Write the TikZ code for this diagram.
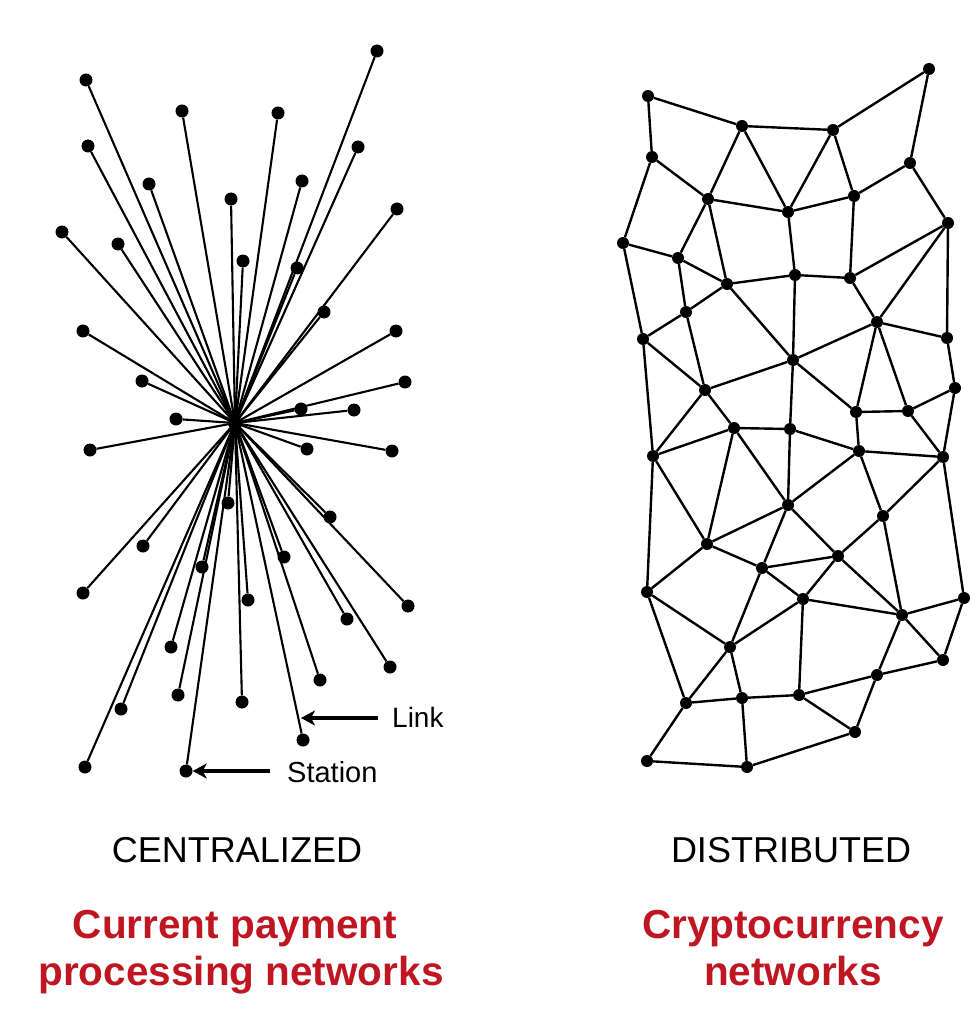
\documentclass[tikz,border=0pt]{standalone}
\usepackage{fontspec}
\setmainfont{Liberation Sans}
\usetikzlibrary{arrows.meta}
\definecolor{titlered}{RGB}{192,22,34}
\begin{document}
\begin{tikzpicture}[x=1pt,y=-1pt,
  dot/.style={circle,fill=black,inner sep=0pt,minimum size=13pt},
  sdot/.style={circle,fill=black,inner sep=0pt,minimum size=12pt},
  link/.style={line width=2.1pt,black},
  mesh/.style={line width=2.4pt,black},
  pointer/.style={line width=3.2pt,-{Stealth[length=14pt,width=15pt,inset=4pt]}},
  caption/.style={font=\fontsize{36}{40}\selectfont,anchor=base},
  redcap/.style={font=\fontsize{40.5}{47}\selectfont\bfseries,text=titlered,anchor=base},
  small/.style={font=\fontsize{28}{32}\selectfont,anchor=base west,inner sep=0pt}]
\useasboundingbox (0,0) rectangle (978,1032);
\fill[white] (0,0) rectangle (978,1032);
% ---------- centralized ----------
\coordinate (hub) at (235,423);
\foreach \n/\x/\y in {1/377/51,2/86/80,3/182/111,4/278/113,5/88/146,6/358/147,7/149/184,8/302/181,
  9/231/199,10/397/209,11/62/232,12/118/244,13/243/261,14/297/268,15/324/312,16/83/331,17/396/331,
  18/142/381,19/405/382,20/301/409,21/354/410,22/176/419,23/90/450,24/307/449,25/392/451,26/228/503,
  27/330/517,28/143/546,29/202/567,30/284/557,31/83/593,32/248/600,33/408/606,34/347/619,35/171/647,
  36/390/667,37/320/680,38/178/695,39/242/702,40/121/709,41/303/740,42/85/767,43/186/771}
{ \node[dot] (s\n) at (\x,\y) {}; \draw[link] (hub) -- (s\n); }
\fill (hub) circle (7pt);
% labels Link / Station
\node[small] (linklbl) at (392,727) {Link};
\coordinate (linktail) at (378,718);
\coordinate (linktip) at (301,718);
\draw[pointer] (linktail) -- (linktip);
\node[small,font=\fontsize{29}{32}\selectfont] (stationlbl) at (287,782) {Station};
\coordinate (stationtail) at (270,771);
\draw[pointer] (stationtail) -- (s43);
% ---------- distributed ----------
\foreach \n/\x/\y in {a1/648/96,a2/742/126,a3/833/130,a4/929/69,a5/652/157,a6/910/163,a7/708/199,
  a8/788/212,a9/854/196,a10/948/223,a11/623/243,a12/678/258,a13/795/275,a14/850/278,a15/727/284,
  a16/686/312,a17/877/322,a18/947/338,a19/643/339,a20/793/360,a21/705/390,a22/955/388,
  b3/856/412,b4/908/411,b5/734/428,b6/790/429,b7/653/456,b8/859/451,b9/943/457,b10/788/505,
  b11/883/516,b12/707/544,b13/838/556,b14/762/568,b15/647/592,b16/803/599,b17/964/598,b18/902/615,
  b19/730/647,b20/943/660,b21/877/675,b22/686/703,b23/742/698,b24/799/695,b25/855/732,b26/647/761,b27/747/767}
{ \node[sdot] (\n) at (\x,\y) {}; }
\foreach \u/\v in {a1/a2,a1/a5,a2/a3,a3/a4,a4/a6,a2/a7,a2/a8,a3/a8,a3/a9,a6/a9,a6/a10,a5/a7,a5/a11,
  a7/a8,a8/a9,a7/a12,a7/a15,a8/a13,a9/a14,a10/a14,a10/a17,a10/a18,a11/a12,a11/a19,a12/a15,a12/a16,
  a13/a15,a13/a14,a13/a20,a14/a17,a15/a16,a15/a20,a16/a19,a16/a21,a17/a20,a17/a18,a17/b3,a17/b4,
  a18/a22,a19/a21,a19/b7,a20/a21,a20/b6,a20/b3,a21/b5,a21/b7,a22/b4,a22/b9,
  b3/b4,b3/b8,b4/b9,b5/b6,b5/b7,b5/b12,b5/b10,b6/b8,b6/b10,b7/b12,b7/b15,b8/b9,b8/b10,b8/b11,
  b9/b11,b9/b17,b10/b12,b10/b14,b10/b13,b11/b13,b11/b18,b12/b14,b12/b15,b13/b14,b13/b16,b13/b18,
  b14/b16,b14/b19,b15/b19,b15/b22,b16/b18,b16/b19,b16/b24,b17/b18,b17/b20,b18/b20,b18/b21,
  b19/b22,b19/b23,b20/b21,b21/b24,b21/b25,b22/b23,b22/b26,b23/b24,b23/b27,b24/b25,b25/b27,b26/b27}
{ \draw[mesh] (\u) -- (\v); }
% ---------- captions ----------
\node[caption] (ctitle) at (237,862) {CENTRALIZED};
\node[caption] (dtitle) at (791,862) {DISTRIBUTED};
\node[redcap] (csub1) at (235,938) {Current payment};
\node[redcap] (csub2) at (241,985) {processing networks};
\node[redcap] (dsub1) at (793,938) {Cryptocurrency};
\node[redcap] (dsub2) at (793,985) {networks};
\end{tikzpicture}
\end{document}
